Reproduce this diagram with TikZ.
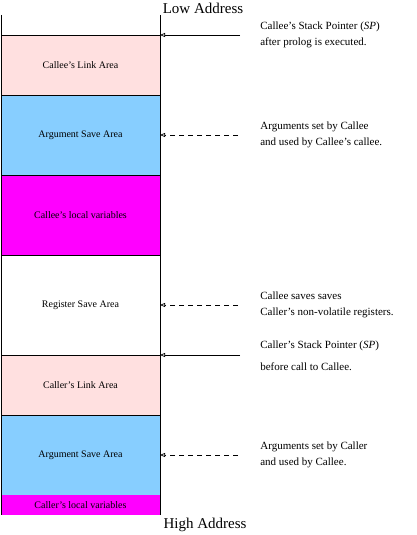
\documentclass[tikz,border=0pt]{standalone}
\usepackage{fontspec}
\setmainfont{Liberation Serif}
\usetikzlibrary{arrows.meta, positioning}

\definecolor{linkpink}{HTML}{FFE0E0}
\definecolor{argblue}{HTML}{87CEFF}
\definecolor{localmag}{RGB}{255,0,255}

\begin{document}
\begin{tikzpicture}[
  x=1pt, y=1pt,
  line width=0.7pt,
  area/.style={draw, minimum width=159pt, inner sep=0pt, outer sep=0pt, align=center, font=\fontsize{10}{12}\selectfont},
  note/.style={anchor=west, align=left, inner sep=0pt, font=\fontsize{11}{16}\selectfont},
  addr/.style={font=\fontsize{15}{17}\selectfont, inner sep=0pt},
  ptr/.style={-{Triangle[open, length=5pt, width=4pt]}},
  dptr/.style={-{Triangle[open, length=5pt, width=4pt]}, dash pattern=on 5pt off 4pt},
]
\useasboundingbox (0,0) rectangle (416,535);
% ---- callee frame
\node[area, minimum height=60pt, fill=linkpink] (calleelink) at (80.5,470) {Callee's Link Area};
\node[area, minimum height=80pt, fill=argblue] (calleeargs) at (80.5,400) {Argument Save Area};
\node[area, minimum height=80pt, fill=localmag] (calleelocals) at (80.5,320) {Callee's local variables};
\node[area, minimum height=100pt, fill=white] (regsave) at (80.5,230) {Register Save Area};
% ---- caller frame
\node[area, minimum height=60pt, fill=linkpink] (callerlink) at (80.5,150) {Caller's Link Area};
\node[area, minimum height=80pt, fill=argblue] (callerargs) at (80.5,80) {Argument Save Area};
\node[area, draw=none, minimum height=20pt, fill=localmag] (callerlocals) at (80.5,30) {Caller's local variables};
% column sides
\coordinate (topw) at (1,520);
\coordinate (tope) at (160,520);
\draw (topw) -- (callerlocals.south west);
\draw (tope) -- (callerlocals.south east);
\node[addr] (low) at (203,527) {Low Address};
\node[addr] (high) at (205,10) {High Address};

% ---- notes
\node[note] (spnew) at (260,500) {Callee's Stack Pointer (\textit{SP})\\after prolog is executed.};
\node[note] (argsnew) at (260,400) {Arguments set by Callee\\and used by Callee's callee.};
\node[note] (regnote) at (260,230) {Callee saves saves\\Caller's non-volatile registers.};
\node[note] (spold) at (260,179) {Caller's Stack Pointer (\textit{SP})\\[6pt]before call to Callee.};
\node[note] (argsold) at (260,80) {Arguments set by Caller\\and used by Callee.};
\draw[ptr] ([xshift=-20pt]spnew.west) -- (calleelink.north east);
\draw[dptr] ([xshift=-22pt]argsnew.west) -- (calleeargs.east);
\draw[dptr] ([xshift=-22pt]regnote.west) -- (regsave.east);
\draw[ptr] ([xshift=-20pt]spold.west |- callerlink.north) -- (callerlink.north east);
\draw[dptr] ([xshift=-22pt]argsold.west) -- (callerargs.east);
\end{tikzpicture}
\end{document}
